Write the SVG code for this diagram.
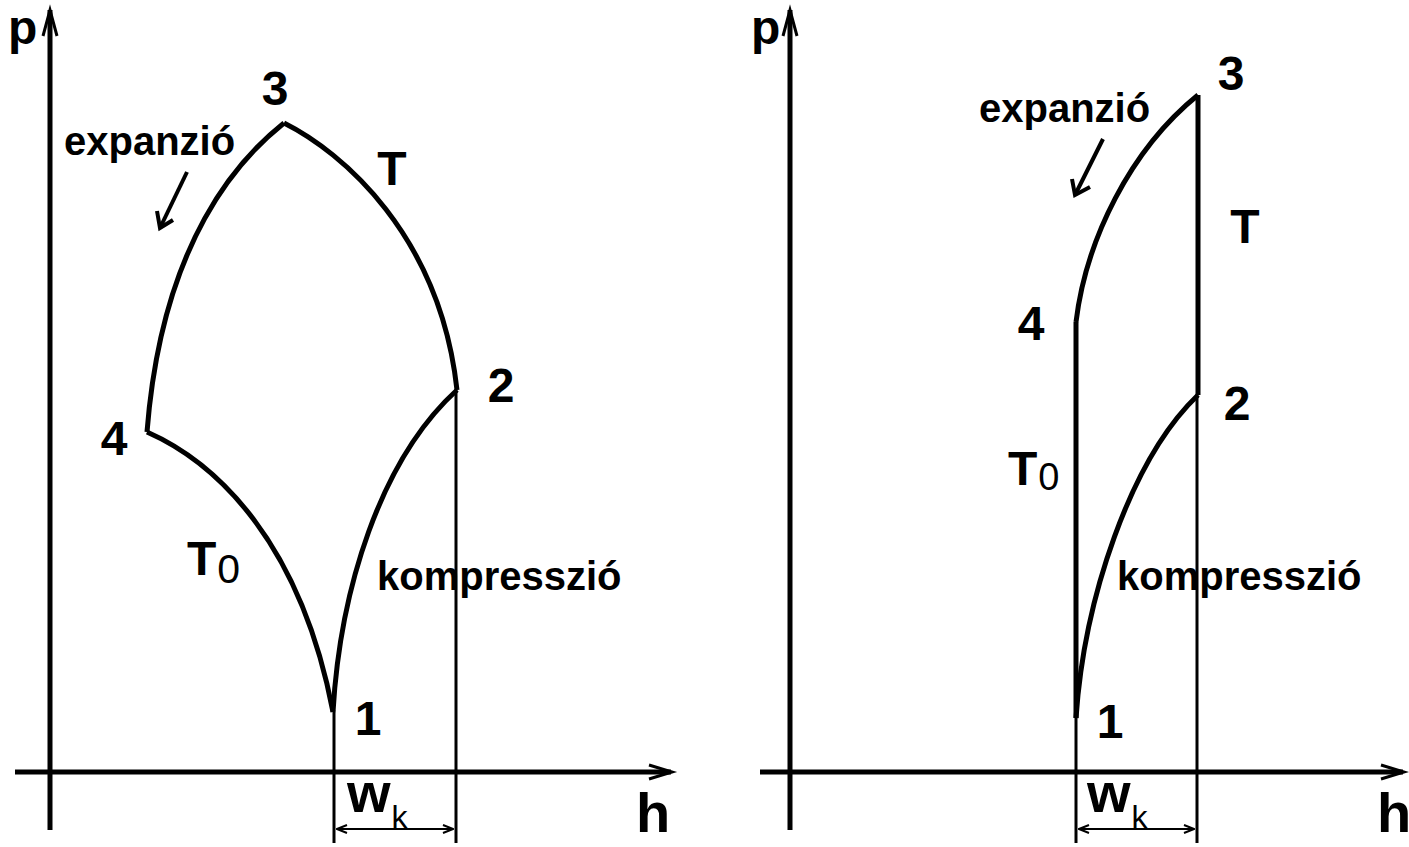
<svg xmlns="http://www.w3.org/2000/svg" width="1409" height="847" viewBox="0 0 1409 847">
<style>
.ax{stroke:#000;stroke-width:5;fill:none}
.cv{stroke:#000;stroke-width:5;fill:none;stroke-linejoin:miter}
.thin{stroke:#000;stroke-width:3;fill:none}
.dim{stroke:#000;stroke-width:2;fill:none}
.ah{stroke:#000;stroke-width:3;fill:none;stroke-linejoin:miter}
.ea{stroke:#000;stroke-width:4;fill:none;stroke-linejoin:miter}
.num{font-family:"Liberation Sans",Arial,sans-serif;font-weight:bold;font-size:48px;fill:#000;text-anchor:middle}
.lbl{font-family:"Liberation Sans",Arial,sans-serif;font-weight:bold;font-size:40px;fill:#000}
.axl{font-family:"Liberation Sans",Arial,sans-serif;font-weight:bold;font-size:56px;fill:#000}
.pl{font-family:"Liberation Sans",Arial,sans-serif;font-weight:bold;font-size:48px;fill:#000}
.tt{font-family:"Liberation Sans",Arial,sans-serif;font-weight:bold;font-size:48px;fill:#000}
.sub{font-weight:normal}
</style>
<defs>
<marker id="dimh" viewBox="0 0 12 10" refX="11" refY="5" markerWidth="12" markerHeight="10" markerUnits="userSpaceOnUse" orient="auto-start-reverse">
<path d="M1,1 L11,5 L1,9" fill="none" stroke="#000" stroke-width="2"/>
</marker>
</defs>
<rect width="1409" height="847" fill="#fff"/>

<g id="left-diagram">
<g id="left-axes">
<line class="ax" x1="50" y1="10" x2="50" y2="830"/>
<path class="ah" d="M43,36 L50,10 L57,36"/>
<line class="ax" x1="15" y1="772" x2="671" y2="772"/>
<path class="ah" d="M649,765 L672,772 L649,779"/>
<text class="pl" x="8" y="44">p</text>
<text class="axl" x="636" y="832">h</text>
</g>
<g id="left-connectors">
<path class="cv" d="M284,123 C342,152 440,235 457,390"/>
<path class="cv" d="M284,123 C240,158 162,240 147,432"/>
<path class="cv" d="M147,432 C215,462 300,540 333,712"/>
<path class="cv" d="M333,712 C340,590 380,460 457,390"/>
<line class="thin" x1="334" y1="712" x2="334" y2="843"/>
<line class="thin" x1="456" y1="390" x2="456" y2="843"/>
<line class="dim" x1="337" y1="829" x2="453" y2="829" marker-start="url(#dimh)" marker-end="url(#dimh)"/>
<path class="ea" d="M187,172 L160,228"/>
<path class="ea" d="M157,211 L160,228 L173,220"/>
</g>
<g id="left-p3"><text class="num" x="275" y="105">3</text></g>
<g id="left-p2"><text class="num" x="501" y="402">2</text></g>
<g id="left-p4"><text class="num" x="114" y="455">4</text></g>
<g id="left-p1"><text class="num" x="368" y="735">1</text></g>
<g id="left-T"><text class="num" x="392" y="185">T</text></g>
<g id="left-T0"><text class="tt" x="187" y="575">T<tspan class="sub" dx="1" dy="8" font-size="41">0</tspan></text></g>
<g id="left-exp"><text class="lbl" x="64" y="155">expanzió</text></g>
<g id="left-komp"><text class="lbl" x="377" y="590">kompresszió</text></g>
<g id="left-wk"><text class="axl" x="347" y="812" font-size="58">w<tspan class="sub" dx="1" dy="16" font-size="32">k</tspan></text></g>
</g>

<g id="right-diagram">
<g id="right-axes">
<line class="ax" x1="790" y1="10" x2="790" y2="830"/>
<path class="ah" d="M783,36 L790,10 L797,36"/>
<line class="ax" x1="760" y1="772" x2="1403" y2="772"/>
<path class="ah" d="M1381,765 L1404,772 L1381,779"/>
<text class="pl" x="751" y="44">p</text>
<text class="axl" x="1377" y="832">h</text>
</g>
<g id="right-connectors">
<line class="cv" x1="1198" y1="95" x2="1198" y2="395"/>
<line class="cv" x1="1076" y1="322" x2="1076" y2="718"/>
<path class="cv" d="M1076,322 C1086,240 1130,150 1198,95"/>
<path class="cv" d="M1076,718 C1084,600 1130,460 1198,395"/>
<line class="thin" x1="1076" y1="718" x2="1076" y2="843"/>
<line class="thin" x1="1197" y1="395" x2="1197" y2="843"/>
<line class="dim" x1="1079" y1="829" x2="1194" y2="829" marker-start="url(#dimh)" marker-end="url(#dimh)"/>
<path class="ea" d="M1103,139 L1075,195"/>
<path class="ea" d="M1072,179 L1075,195 L1090,187"/>
</g>
<g id="right-p3"><text class="num" x="1231" y="90">3</text></g>
<g id="right-p2"><text class="num" x="1237" y="420">2</text></g>
<g id="right-p4"><text class="num" x="1031" y="340">4</text></g>
<g id="right-p1"><text class="num" x="1110" y="738">1</text></g>
<g id="right-T"><text class="num" x="1245" y="243">T</text></g>
<g id="right-T0"><text class="tt" x="1008" y="485">T<tspan class="sub" dx="1" dy="5" font-size="38">0</tspan></text></g>
<g id="right-exp"><text class="lbl" x="979" y="122">expanzió</text></g>
<g id="right-komp"><text class="lbl" x="1117" y="590">kompresszió</text></g>
<g id="right-wk"><text class="axl" x="1087" y="812" font-size="58">w<tspan class="sub" dx="1" dy="16" font-size="32">k</tspan></text></g>
</g>
</svg>
